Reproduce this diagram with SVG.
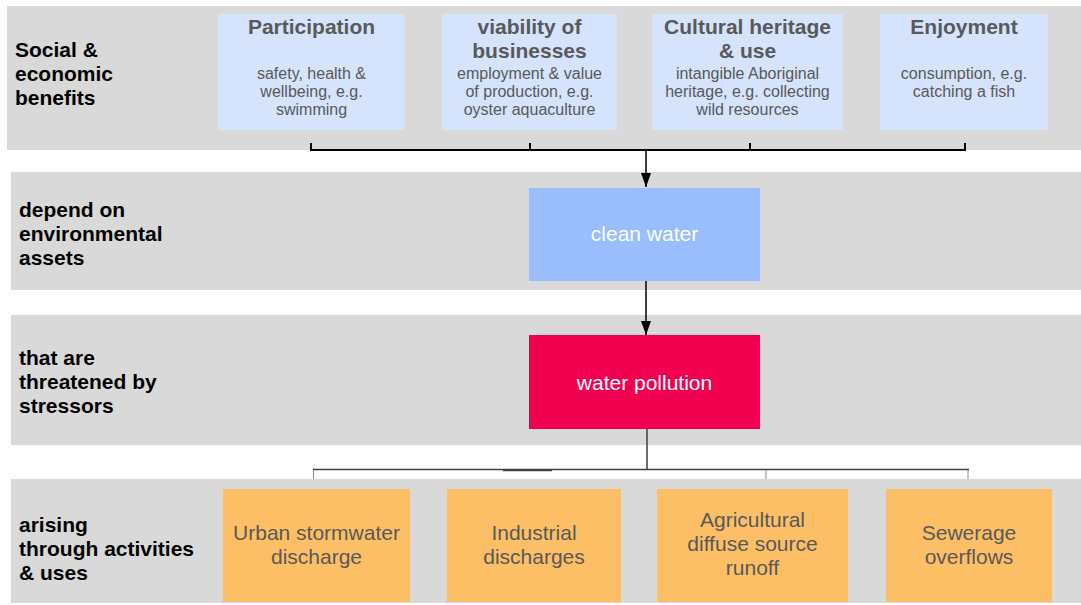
<svg xmlns="http://www.w3.org/2000/svg" width="1081" height="605" viewBox="0 0 1081 605">
  <style>
    .band { fill: #d9d9d9; }
    .benefit { fill: #d5e3fc; }
    .asset { fill: #99bdfd; }
    .stressor { fill: #f0004f; }
    .activity { fill: #fdbf65; }
    text { font-family: "Liberation Sans", Arial, sans-serif; }
    .label { font-size: 21px; font-weight: bold; fill: #000; }
    .title { font-size: 21px; font-weight: bold; fill: #595959; text-anchor: middle; }
    .sub { font-size: 16px; fill: #595959; text-anchor: middle; }
    .white { font-size: 21px; fill: #fff; text-anchor: middle; }
    .act { font-size: 21px; fill: #595959; text-anchor: middle; }
    .bracket { fill: none; stroke: #000; stroke-width: 2; }
    .link { fill: none; stroke: #000; stroke-width: 1.5; }
    .branch { fill: none; stroke: #404040; stroke-width: 1.5; }
    .drop { fill: none; stroke: #8c8c8c; stroke-width: 1; }
  </style>
  <defs>
    <marker id="arrow" viewBox="0 0 14 10" refX="14" refY="5" markerWidth="14" markerHeight="10" markerUnits="userSpaceOnUse" orient="auto">
      <path d="M0,0 L14,5 L0,10 Z" fill="#000"/>
    </marker>
  </defs>

  <!-- row bands -->
  <g id="bands">
    <rect class="band" x="7" y="6" width="1074" height="144"/>
    <rect class="band" x="11" y="172" width="1070" height="118"/>
    <rect class="band" x="11" y="315" width="1070" height="130"/>
    <rect class="band" x="11" y="479" width="1070" height="124"/>
  </g>

  <!-- row labels -->
  <g id="row-labels">
    <text class="label" x="15" y="57">Social &amp;</text>
    <text class="label" x="15" y="81">economic</text>
    <text class="label" x="15" y="105">benefits</text>
    <text class="label" x="19" y="217">depend on</text>
    <text class="label" x="19" y="241">environmental</text>
    <text class="label" x="19" y="265">assets</text>
    <text class="label" x="19" y="365">that are</text>
    <text class="label" x="19" y="389">threatened by</text>
    <text class="label" x="19" y="413">stressors</text>
    <text class="label" x="19" y="532">arising</text>
    <text class="label" x="19" y="556">through activities</text>
    <text class="label" x="19" y="580">&amp; uses</text>
  </g>

  <!-- connectors -->
  <g id="connectors">
    <path class="bracket" d="M311,143 V150 M530,143 V150 M750,143 V150 M965,143 V150 M310,150 H966"/>
    <path class="link" d="M646,150 V187" marker-end="url(#arrow)"/>
    <path class="link" d="M646,281 V335" marker-end="url(#arrow)"/>
    <path class="branch" d="M647,429 V469 M313,469.5 H969 M503,470.5 H552"/>
    <path class="drop" d="M313.5,470 V479 M766,470 V479 M968,470 V479"/>
  </g>

  <!-- social & economic benefits -->
  <g id="participation">
    <rect class="benefit" x="218" y="14" width="187" height="116"/>
    <text class="title" x="311.5" y="34">Participation</text>
    <text class="sub" x="311.5" y="79">safety, health &amp;</text>
    <text class="sub" x="311.5" y="97">wellbeing, e.g.</text>
    <text class="sub" x="311.5" y="115">swimming</text>
  </g>
  <g id="viability">
    <rect class="benefit" x="442" y="14" width="175" height="116"/>
    <text class="title" x="529.5" y="34">viability of</text>
    <text class="title" x="529.5" y="58">businesses</text>
    <text class="sub" x="529.5" y="79">employment &amp; value</text>
    <text class="sub" x="529.5" y="97">of production, e.g.</text>
    <text class="sub" x="529.5" y="115">oyster aquaculture</text>
  </g>
  <g id="cultural-heritage">
    <rect class="benefit" x="652" y="14" width="191" height="116"/>
    <text class="title" x="747.5" y="34">Cultural heritage</text>
    <text class="title" x="747.5" y="58">&amp; use</text>
    <text class="sub" x="747.5" y="79">intangible Aboriginal</text>
    <text class="sub" x="747.5" y="97">heritage, e.g. collecting</text>
    <text class="sub" x="747.5" y="115">wild resources</text>
  </g>
  <g id="enjoyment">
    <rect class="benefit" x="880" y="14" width="168" height="116"/>
    <text class="title" x="964" y="34">Enjoyment</text>
    <text class="sub" x="964" y="79">consumption, e.g.</text>
    <text class="sub" x="964" y="97">catching a fish</text>
  </g>

  <!-- environmental asset -->
  <g id="clean-water">
    <rect class="asset" x="529" y="188" width="231" height="93"/>
    <text class="white" x="644.5" y="241">clean water</text>
  </g>

  <!-- stressor -->
  <g id="water-pollution">
    <rect class="stressor" x="529" y="335" width="231" height="94"/>
    <text class="white" x="644.5" y="390">water pollution</text>
  </g>

  <!-- activities & uses -->
  <g id="urban-stormwater">
    <rect class="activity" x="223" y="489" width="187" height="113"/>
    <text class="act" x="316.5" y="540">Urban stormwater</text>
    <text class="act" x="316.5" y="564">discharge</text>
  </g>
  <g id="industrial">
    <rect class="activity" x="447" y="489" width="174" height="113"/>
    <text class="act" x="534" y="540">Industrial</text>
    <text class="act" x="534" y="564">discharges</text>
  </g>
  <g id="agricultural">
    <rect class="activity" x="657" y="489" width="191" height="113"/>
    <text class="act" x="752.5" y="527">Agricultural</text>
    <text class="act" x="752.5" y="551">diffuse source</text>
    <text class="act" x="752.5" y="575">runoff</text>
  </g>
  <g id="sewerage">
    <rect class="activity" x="886" y="489" width="166" height="113"/>
    <text class="act" x="969" y="540">Sewerage</text>
    <text class="act" x="969" y="564">overflows</text>
  </g>
</svg>
